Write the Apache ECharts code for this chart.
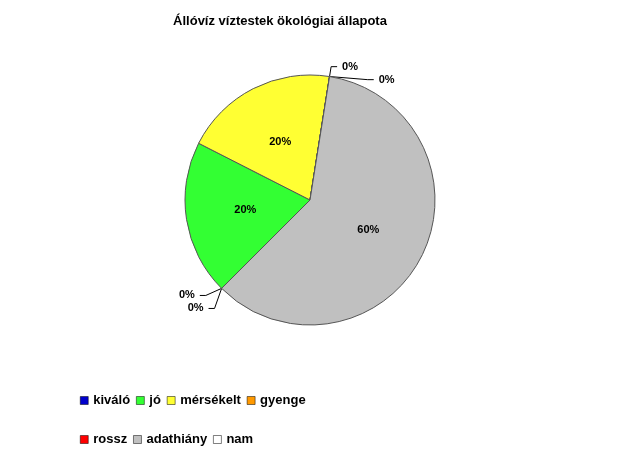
<!DOCTYPE html>
<html>
<head>
<meta charset="utf-8">
<script src="https://cdn.jsdelivr.net/npm/echarts@6/dist/echarts.min.js"></script>
<style>html,body{margin:0;background:#fff}#c{width:619px;height:454px}</style>
</head>
<body>
<div id="c"></div>
<script>
// kategóriák és értékek
const categories = ['kiváló', 'jó', 'mérsékelt', 'gyenge', 'rossz', 'adathiány', 'nam'];
const values = [0, 20, 20, 0, 0, 60, 0];
const colors = ['#0000CC', '#33FF33', '#FFFF33', '#FF9900', '#FF0000', '#C0C0C0', '#FFFFFF'];
const row1 = ['kiváló', 'jó', 'mérsékelt', 'gyenge'];
const row2 = ['rossz', 'adathiány', 'nam'];

const chart = echarts.init(document.getElementById('c'));
const total = values.reduce((a, b) => a + b, 0);

const legendBase = {
  icon: 'rect',
  itemWidth: 8,
  itemHeight: 8,
  itemGap: 6,
  left: 75,
  itemStyle: { borderColor: '#000', borderWidth: 0.5 },
  formatter: n => '{a|' + n + '}',
  textStyle: {
    rich: { a: { fontFamily: 'Arial', fontWeight: 'bold', fontSize: 13, color: '#000', width: 84 } }
  }
};

chart.setOption({
  animation: false,
  color: colors,
  title: {
    text: 'Állóvíz víztestek ökológiai állapota',
    left: 275, top: 10, textAlign: 'center',
    textStyle: { fontFamily: 'Arial', fontWeight: 'bold', fontSize: 13, color: '#000' }
  },
  legend: [
    Object.assign({}, legendBase, { data: row1, top: 389 }),
    Object.assign({}, legendBase, { data: row2, top: 428 })
  ],
  series: [{
    type: 'pie',
    center: [310, 200],
    radius: [0, 125],
    startAngle: 225,
    clockwise: true,
    stillShowZeroSum: true,
    itemStyle: { borderColor: '#555', borderWidth: 1 },
    labelLine: { show: true, length: 10, length2: 6, lineStyle: { color: '#000' } },
    label: {
      fontFamily: 'Arial', fontWeight: 'bold', fontSize: 11, color: '#000',
      formatter: p => Math.round(p.value / total * 100) + '%'
    },
    data: categories.map((n, i) => ({
      name: n,
      value: values[i],
      label: { position: values[i] > 0 ? 'inside' : 'outside' },
      labelLine: { show: values[i] === 0 }
    }))
  }]
});
</script>
</body>
</html>
